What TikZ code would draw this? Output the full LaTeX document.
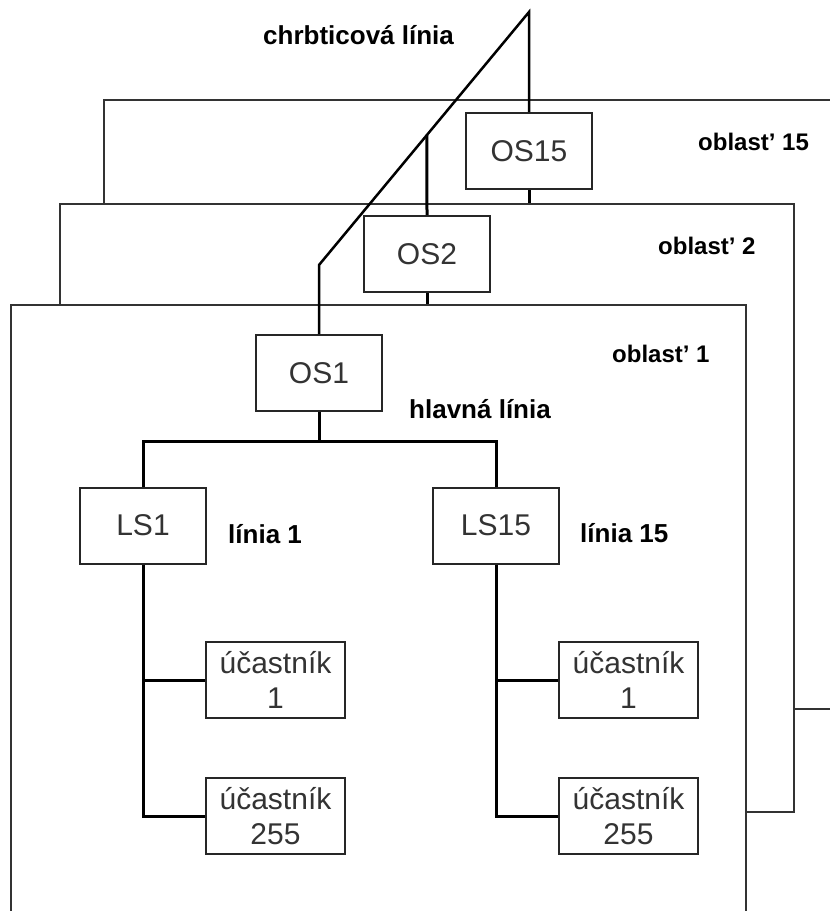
\documentclass[tikz,border=0pt]{standalone}
\usepackage{fontspec}
\setmainfont{Liberation Sans}
\usetikzlibrary{positioning}

\begin{document}
\begin{tikzpicture}[
    x=1pt, y=-1pt,
    oblast/.style={draw=black!80, line width=2pt, fill=white, anchor=north west, inner sep=0pt},
    sbox/.style={draw=black!85, line width=2pt, fill=white, minimum width=126pt, minimum height=76pt, inner sep=0pt, align=center, text=black!80, font=\fontsize{30}{35}\selectfont},
    ubox/.style={sbox, minimum width=139pt},
    lbl/.style={inner sep=0pt, font=\fontsize{26}{30}\selectfont\bfseries},
    olbl/.style={lbl, anchor=west, font=\fontsize{24}{28}\selectfont\bfseries},
    bus/.style={line width=3pt},
    node distance=21pt
]
    \useasboundingbox (0,0) rectangle (830,911);
    \clip (0,0) rectangle (830,911);

    % oblast 15
    \node[oblast, minimum width=760pt, minimum height=609pt] (ob15) at (103,99) {};
    \node[sbox] (os15) at (529,151) {OS15};
    \node[olbl] (lob15) at (698,142) {oblast’ 15};
    \draw[bus] (os15.south) -- (os15.south |- ob15.south);

    % oblast 2
    \node[oblast, minimum width=734pt, minimum height=608pt] (ob2) at (59,203) {};
    \node[sbox] (os2) at (427,254) {OS2};
    \node[olbl] (lob2) at (658,246) {oblast’ 2};
    \draw[bus] (os2.south) -- (os2.south |- ob2.south);

    % oblast 1
    \node[oblast, minimum width=735pt, minimum height=650pt] (ob1) at (10,304) {};
    \node[sbox] (os1) at (319,373) {OS1};
    \node[olbl] (lob1) at (612,354) {oblast’ 1};

    % liniove spojky
    \node[sbox] (ls1) at (143,525.5) {LS1};
    \node[sbox] (ls15) at (496,525.5) {LS15};
    \node[lbl, right=of ls1, yshift=-9pt] (lin1) {línia 1};
    \node[lbl, right=20pt of ls15, yshift=-8pt] (lin15) {línia 15};

    % ucastnici
    \node[ubox] (u1a) at (275.5,680) {účastník\\1};
    \node[ubox] (u255a) at (275.5,816) {účastník\\255};
    \node[ubox] (u1b) at (628.5,680) {účastník\\1};
    \node[ubox] (u255b) at (628.5,816) {účastník\\255};

    % hlavna linia
    \coordinate (hl) at (319,441);
    \node[lbl, right=26pt of os1.south east, yshift=3pt] (hlav) {hlavná línia};
    \draw[bus] (os1.south) -- (hl);
    \draw[bus] (ls1.north) |- (hl) -| (ls15.north);

    % linie
    \draw[bus] (ls1.south) |- (u255a.west);
    \draw[bus] (u1a.west) -- (u1a.west -| ls1.south);
    \draw[bus] (ls15.south) |- (u255b.west);
    \draw[bus] (u1b.west) -- (u1b.west -| ls15.south);

    % chrbticova linia
    \coordinate (bbtop) at (529,12);
    \coordinate (bbknee) at (319,265);
    \node[lbl, anchor=west] (chrb) at (263,35) {chrbticová línia};
    \draw[bus, line width=2.5pt] (os15.north) -- (bbtop) -- coordinate[pos=0.486] (bbmid) (bbknee) -- (os1.north);
    \draw[bus] (bbmid) -- (os2.north);

\end{tikzpicture}
\end{document}
